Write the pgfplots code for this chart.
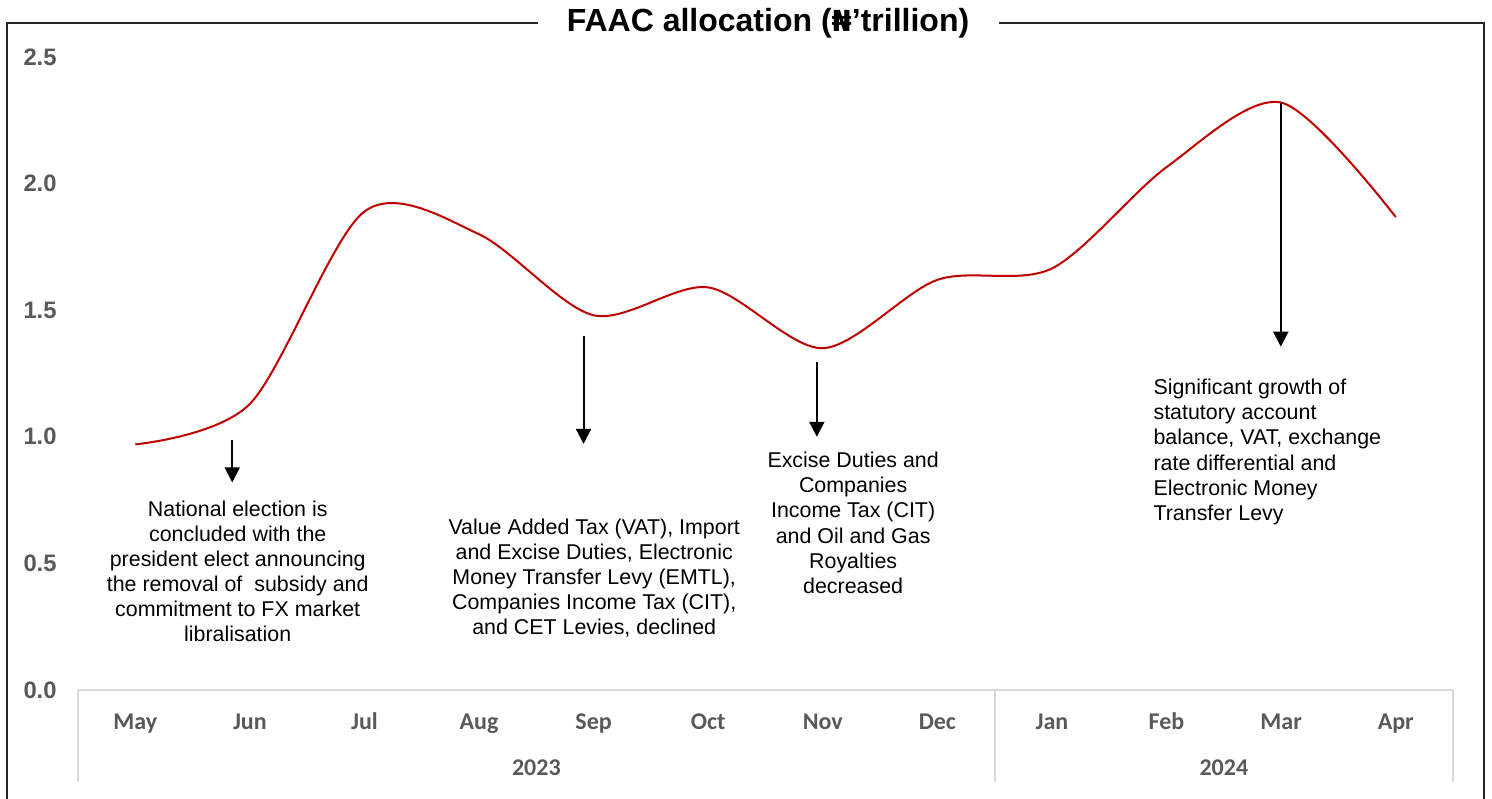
\documentclass[border=0pt]{standalone}
\usepackage{pgfplots}
\pgfplotsset{compat=1.18}
\usepackage{fontspec}
\setmainfont{Liberation Sans}
\newfontfamily\calibri{Carlito}
\newfontfamily\dejavu{DejaVu Sans}
\usetikzlibrary{arrows.meta}
\definecolor{curvered}{HTML}{C00000}
\definecolor{lblgray}{HTML}{595959}
\definecolor{axgray}{HTML}{D9D9D9}
\newcommand{\pxc}[2]{({(#1-78)*0.5pt},{(690-#2)*0.5pt})}
\begin{document}
\begin{tikzpicture}
\path[use as bounding box] \pxc{0}{798} rectangle \pxc{1492}{0};
\draw[line width=0.75pt, black!85] \pxc{538}{23} -- \pxc{7}{23} -- \pxc{7}{800};
\draw[line width=0.75pt, black!85] \pxc{999}{23} -- \pxc{1484}{23} -- \pxc{1484}{800};
\node[font=\bfseries\fontsize{16}{16}\selectfont, inner sep=0pt] at \pxc{768}{23} {FAAC allocation ({\dejavu\bfseries\fontsize{14.5}{16}\selectfont ₦}’trillion)};
\begin{axis}[
 at={(0,0)}, anchor=south west, scale only axis,
 width=687.5pt, height=316.5pt,
 xmin=-0.5, xmax=11.5, ymin=0, ymax=2.5,
 axis line style={draw=none},
 major tick length=0pt,
 ytick={0,0.5,1,1.5,2,2.5},
 yticklabels={0.0,0.5,1.0,1.5,2.0,2.5},
 yticklabel style={font=\bfseries\fontsize{11.9}{12}\selectfont, text=lblgray, anchor=east, inner sep=0pt, xshift=-10.5pt},
 xtick={0,...,11},
 xticklabels={May,Jun,Jul,Aug,Sep,Oct,Nov,Dec,Jan,Feb,Mar,Apr},
 xticklabel style={font=\calibri\bfseries\fontsize{12}{12}\selectfont, text=lblgray, anchor=base, inner sep=0pt, yshift=-19.5pt},
 clip=false,
]
\draw[axgray, line width=1pt] (axis cs:-0.5,0) -- (axis cs:11.5,0);
\draw[axgray, line width=1pt] (axis cs:-0.5,0) -- (axis cs:-0.5,-0.363);
\draw[axgray, line width=1pt] (axis cs:7.5,0) -- (axis cs:7.5,-0.363);
\draw[axgray, line width=1pt] (axis cs:11.5,0) -- (axis cs:11.5,-0.363);
\node[font=\calibri\bfseries\fontsize{12}{12}\selectfont, text=lblgray, inner sep=0pt] at (axis cs:3.5,-0.308) {2023};
\node[font=\calibri\bfseries\fontsize{12}{12}\selectfont, text=lblgray, inner sep=0pt] at (axis cs:9.5,-0.308) {2024};

\addplot[smooth, color=curvered, line width=1pt] coordinates {
(0,0.97) (1,1.13) (2,1.89) (3,1.80) (4,1.48) (5,1.59) (6,1.35) (7,1.62) (8,1.665) (9,2.065) (10,2.32) (11,1.868)};

\draw[line width=1pt, -{Triangle[width=7.5pt,length=7.5pt]}] (axis cs:0.846,0.987) -- (axis cs:0.846,0.820);
\draw[line width=1pt, -{Triangle[width=7.5pt,length=7.5pt]}] (axis cs:3.912,1.398) -- (axis cs:3.912,0.972);
\draw[line width=1pt, -{Triangle[width=7.5pt,length=7.5pt]}] (axis cs:5.948,1.297) -- (axis cs:5.948,1.0);
\draw[line width=1pt, -{Triangle[width=7.5pt,length=7.5pt]}] (axis cs:9.997,2.319) -- (axis cs:9.997,1.356);

\node[align=center, font=\fontsize{10.7}{12.5}\selectfont, inner sep=0pt] at (axis cs:0.894,0.468) {National election is\\concluded with the\\president elect announcing\\the removal of\ \ subsidy and\\commitment to FX market\\libralisation};
\node[align=center, font=\fontsize{10.7}{12.5}\selectfont, inner sep=0pt] at (axis cs:4.005,0.441) {Value Added Tax (VAT), Import\\and Excise Duties, Electronic\\Money Transfer Levy (EMTL),\\Companies Income Tax (CIT),\\and CET Levies, declined};
\node[align=center, font=\fontsize{10.7}{12.6}\selectfont, inner sep=0pt] at (axis cs:6.265,0.660) {Excise Duties and\\Companies\\Income Tax (CIT)\\and Oil and Gas\\Royalties\\decreased};
\node[align=left, anchor=west, font=\fontsize{10.7}{12.6}\selectfont, inner sep=0pt] at (axis cs:8.883,0.94) {Significant growth of\\statutory account\\balance, VAT, exchange\\rate differential and\\Electronic Money\\Transfer Levy};
\end{axis}
\end{tikzpicture}
\end{document}
